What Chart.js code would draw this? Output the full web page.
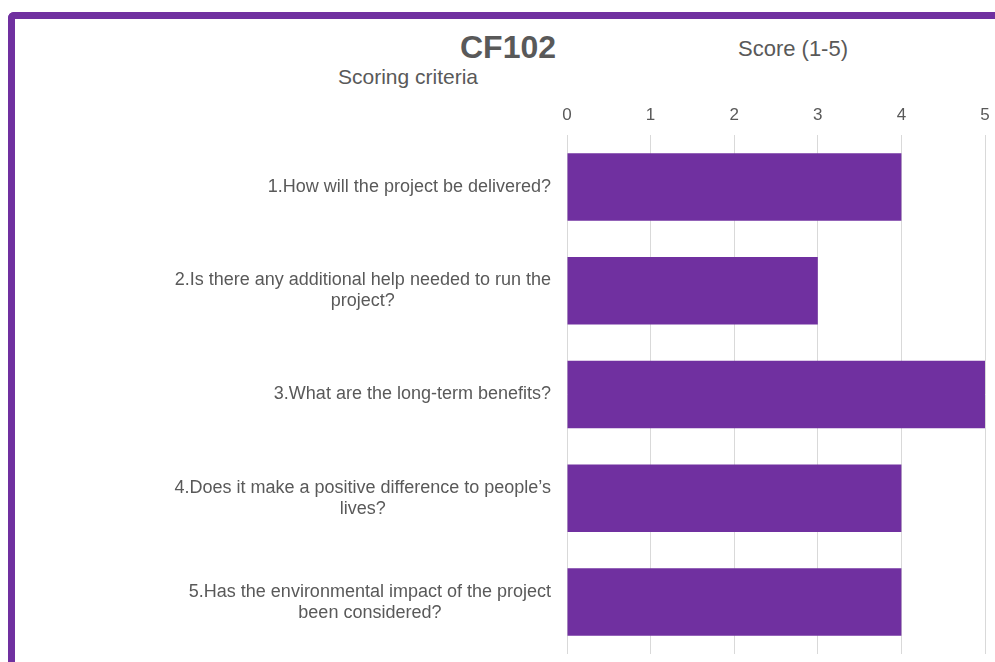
<!DOCTYPE html>
<html>
<head>
<meta charset="utf-8">
<script src="https://cdn.jsdelivr.net/npm/chart.js@4.4.1/dist/chart.umd.min.js"></script>
<style>
  html, body { margin: 0; padding: 0; background: #fff; }
  body { width: 995px; height: 662px; position: relative; overflow: hidden; font-family: "Liberation Sans", Arial, sans-serif; }
  #frame { position: absolute; left: 8px; top: 12px; width: 1000px; height: 700px; border-left: 7px solid #7030A0; border-top: 7px solid #7030A0; border-top-left-radius: 6px; }
  .txt { position: absolute; color: #595959; white-space: nowrap; transform: translateX(-50%); line-height: 1; }
  #title { left: 508px; top: 31px; font-size: 32px; font-weight: bold; }
  #xTitle { left: 793px; top: 38px; font-size: 22px; }
  #yTitle { left: 408px; top: 66px; font-size: 21px; }
  #wrap { position: absolute; left: 0; top: 0; width: 995px; height: 662px; }
</style>
</head>
<body>
<div id="frame"></div>
<div class="txt" id="title">CF102</div>
<div class="txt" id="xTitle">Score (1-5)</div>
<div class="txt" id="yTitle">Scoring criteria</div>
<div id="wrap"><canvas id="chart"></canvas></div>
<script>
// criteria (wrapped as in the reference) and their scores
const criteria = [
  ['1.How will the project be delivered?'],
  ['2.Is there any additional help needed to run the', 'project?'],
  ['3.What are the long-term benefits?'],
  ['4.Does it make a positive difference to people\u2019s', 'lives?'],
  ['5.Has the environmental impact of the project', 'been considered?']
];
const scores = [4, 3, 5, 4, 4];
const scoreTicks = [0, 1, 2, 3, 4, 5];

const textColor = '#595959';
const purple = '#7030A0';
const labelFont = '18px "Liberation Sans", Arial, sans-serif';

// y labels: right-aligned block, with the lines centred inside it
const criteriaLabels = {
  id: 'criteriaLabels',
  afterDraw: function (chart) {
    var ctx = chart.ctx;
    var yScale = chart.scales.y;
    var right = chart.chartArea.left - 16;
    ctx.save();
    ctx.font = labelFont;
    ctx.fillStyle = textColor;
    ctx.textAlign = 'center';
    ctx.textBaseline = 'middle';
    criteria.forEach(function (lines, i) {
      var w = 0;
      lines.forEach(function (l) { w = Math.max(w, ctx.measureText(l).width); });
      var cx = right - w / 2;
      var cy = yScale.getPixelForValue(i);
      var lh = 21;
      var start = cy - (lines.length - 1) * lh / 2;
      lines.forEach(function (l, k) { ctx.fillText(l, cx, start + k * lh); });
    });
    ctx.restore();
  }
};

new Chart(document.getElementById('chart'), {
  type: 'bar',
  data: {
    labels: criteria.map(function (c) { return c.join(' '); }),
    datasets: [{
      data: scores,
      backgroundColor: purple,
      borderWidth: 0,
      barPercentage: 0.65,
      categoryPercentage: 1
    }]
  },
  options: {
    indexAxis: 'y',
    responsive: true,
    maintainAspectRatio: false,
    animation: false,
    layout: { padding: { top: 0, right: 10, bottom: 8, left: 0 } },
    plugins: { legend: { display: false }, tooltip: { enabled: false }, title: { display: false } },
    scales: {
      x: {
        position: 'top',
        min: scoreTicks[0],
        max: scoreTicks[scoreTicks.length - 1],
        afterBuildTicks: function (s) { s.ticks = scoreTicks.map(function (v) { return { value: v }; }); },
        afterFit: function (s) { s.height = 135; s.paddingLeft = 0; s.paddingRight = 0; },
        ticks: { color: textColor, font: { size: 17, family: '"Liberation Sans", Arial, sans-serif' }, padding: 9 },
        grid: { color: '#d9d9d9', drawTicks: false },
        border: { display: false }
      },
      y: {
        afterFit: function (s) { s.width = 567; },
        ticks: { display: false },
        grid: { display: false },
        border: { display: false }
      }
    }
  },
  plugins: [criteriaLabels]
});
</script>
</body>
</html>
